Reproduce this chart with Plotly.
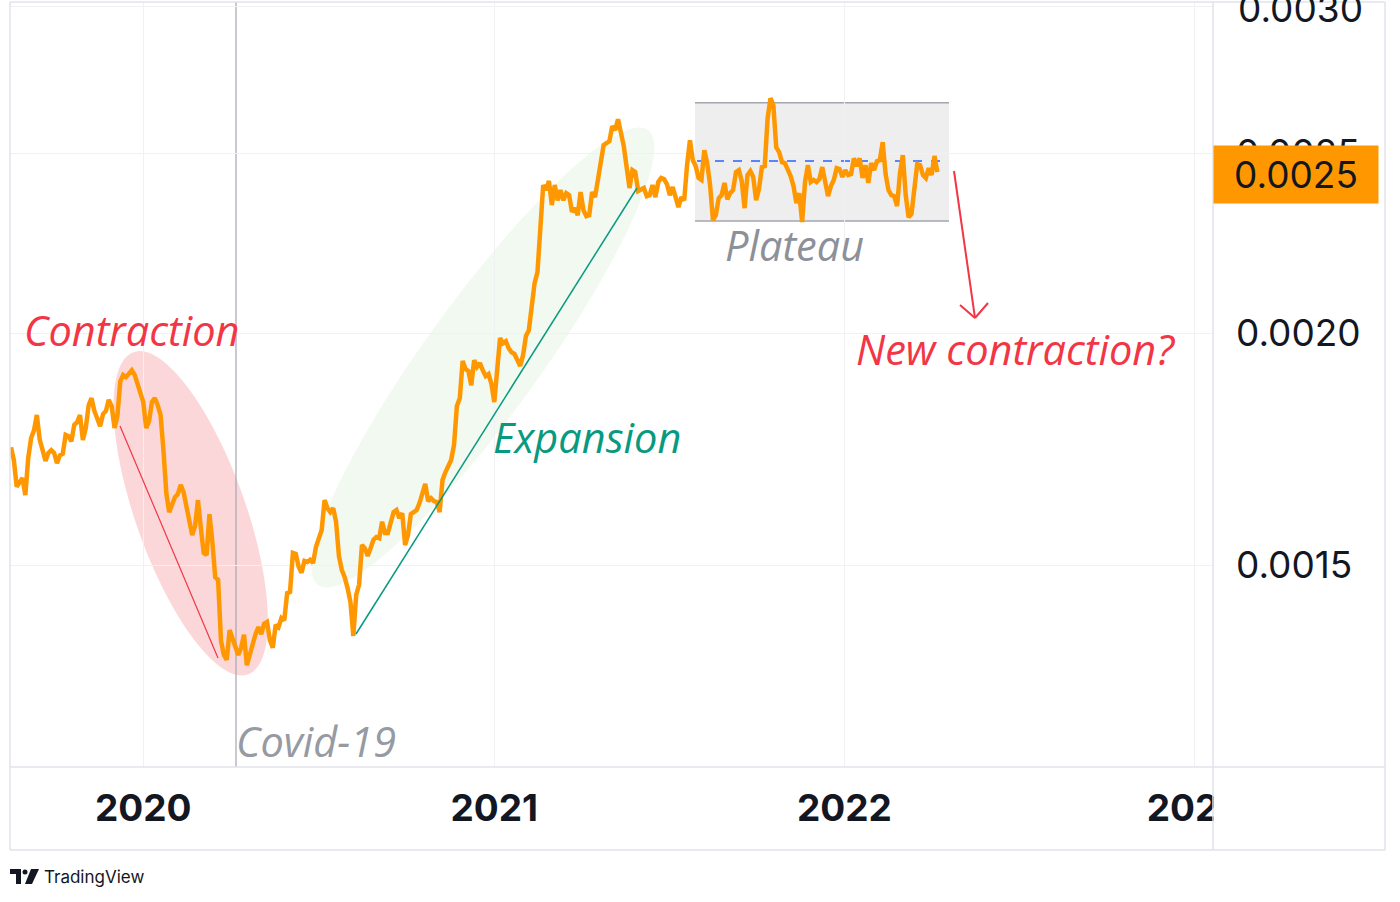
import numpy as np
import pandas as pd
import plotly.graph_objects as go

# ---------------- data ----------------
start_date = "2019-08-16"
step = "3D"
values = [
    0.001736, 0.001709, 0.001653, 0.001663, 0.001671, 0.001636, 0.001713, 0.001756, 0.001773, 0.001807,
    0.001752, 0.001730, 0.001707, 0.001724, 0.001730, 0.001724, 0.001702, 0.001719, 0.001722, 0.001763,
    0.001760, 0.001749, 0.001785, 0.001791, 0.001807, 0.001752, 0.001778, 0.001829, 0.001845, 0.001816,
    0.001796, 0.001782, 0.001809, 0.001816, 0.001841, 0.001827, 0.001778, 0.001805, 0.001884, 0.001899,
    0.001894, 0.001903, 0.001910, 0.001899, 0.001880, 0.001859, 0.001836, 0.001778, 0.001793, 0.001836,
    0.001845, 0.001829, 0.001807, 0.001730, 0.001640, 0.001602, 0.001620, 0.001632, 0.001638, 0.001657,
    0.001642, 0.001614, 0.001584, 0.001557, 0.001575, 0.001626, 0.001571, 0.001523, 0.001519, 0.001598,
    0.001544, 0.001478, 0.001473, 0.001366, 0.001342, 0.001334, 0.001384, 0.001371, 0.001359, 0.001342,
    0.001354, 0.001376, 0.001325, 0.001344, 0.001359, 0.001377, 0.001389, 0.001377, 0.001395, 0.001398,
    0.001367, 0.001354, 0.001393, 0.001389, 0.001405, 0.001401, 0.001449, 0.001451, 0.001523, 0.001521,
    0.001497, 0.001486, 0.001508, 0.001506, 0.001510, 0.001504, 0.001534, 0.001553, 0.001567, 0.001626,
    0.001610, 0.001602, 0.001610, 0.001583, 0.001517, 0.001491, 0.001478, 0.001458, 0.001433, 0.001374,
    0.001446, 0.001464, 0.001538, 0.001532, 0.001517, 0.001532, 0.001548, 0.001553, 0.001551, 0.001583,
    0.001561, 0.001561, 0.001586, 0.001602, 0.001606, 0.001590, 0.001600, 0.001538, 0.001557, 0.001598,
    0.001602, 0.001606, 0.001620, 0.001638, 0.001659, 0.001624, 0.001630, 0.001624, 0.001622, 0.001602,
    0.001667, 0.001683, 0.001698, 0.001709, 0.001741, 0.001827, 0.001845, 0.001932, 0.001913, 0.001908,
    0.001875, 0.001934, 0.001918, 0.001927, 0.001910, 0.001896, 0.001901, 0.001878, 0.001836, 0.001899,
    0.001988, 0.001975, 0.001980, 0.001963, 0.001953, 0.001949, 0.001934, 0.001920, 0.001946, 0.001993,
    0.002007, 0.002066, 0.002128, 0.002157, 0.002289, 0.002403, 0.002388, 0.002415, 0.002344, 0.002403,
    0.002358, 0.002388, 0.002358, 0.002379, 0.002373, 0.002324, 0.002335, 0.002315, 0.002382, 0.002329,
    0.002312, 0.002315, 0.002382, 0.002367, 0.002418, 0.002472, 0.002525, 0.002531, 0.002537, 0.002585,
    0.002572, 0.002607, 0.002559, 0.002522, 0.002457, 0.002394, 0.002448, 0.002442, 0.002385, 0.002388,
    0.002394, 0.002370, 0.002373, 0.002403, 0.002367, 0.002412, 0.002424, 0.002421, 0.002406, 0.002373,
    0.002397, 0.002367, 0.002338, 0.002367, 0.002358, 0.002463, 0.002540, 0.002478, 0.002460, 0.002424,
    0.002418, 0.002509, 0.002469, 0.002403, 0.002301, 0.002315, 0.002364, 0.002373, 0.002409, 0.002361,
    0.002379, 0.002388, 0.002442, 0.002448, 0.002415, 0.002335, 0.002433, 0.002445, 0.002427, 0.002358,
    0.002391, 0.002457, 0.002460, 0.002611, 0.002676, 0.002653, 0.002518, 0.002503, 0.002472, 0.002469,
    0.002448, 0.002430, 0.002400, 0.002350, 0.002379, 0.002295, 0.002412, 0.002463, 0.002412, 0.002418,
    0.002412, 0.002421, 0.002457, 0.002415, 0.002370, 0.002400, 0.002418, 0.002454, 0.002451, 0.002427,
    0.002448, 0.002433, 0.002436, 0.002484, 0.002460, 0.002484, 0.002424, 0.002463, 0.002409, 0.002469,
    0.002448, 0.002475, 0.002478, 0.002534, 0.002436, 0.002388, 0.002373, 0.002370, 0.002341, 0.002439,
    0.002494, 0.002373, 0.002309, 0.002318, 0.002379, 0.002466, 0.002463, 0.002433, 0.002424, 0.002454,
    0.002433, 0.002491, 0.002442,
]
dates = pd.date_range(start_date, periods=len(values), freq=step)

year_ticks = ["2020-01-01", "2021-01-01", "2022-01-01", "2023-01-01"]
year_labels = ["2020", "2021", "2022", "2023"]
price_ticks = [0.0015, 0.0020, 0.0025, 0.0030]
price_labels = ["0.0015", "0.0020", "0.0025", "0.0030"]
last_price_label = "0.0025"

# ---------------- layout helpers (pixel -> paper) ----------------
W, H = 1400, 902
L, R, T, B = 10, 1213, 2, 767


def px(x):
    return (x - L) / (R - L)


def py(y):
    return (B - y) / (B - T)


def ellipse_path(cx, cy, a, b, ux, uy, n=120):
    t = np.linspace(0, 2 * np.pi, n, endpoint=False)
    vx, vy = -uy, ux
    xs = cx + a * np.cos(t) * ux + b * np.sin(t) * vx
    ys = cy + a * np.cos(t) * uy + b * np.sin(t) * vy
    pts = [f"{px(x):.5f},{py(y):.5f}" for x, y in zip(xs, ys)]
    return "M" + " L".join(pts) + " Z"


def poly_path(points):
    pts = [f"{px(x):.5f},{py(y):.5f}" for x, y in points]
    return "M" + " L".join(pts) + " Z"


def seg(x0, y0, x1, y1, color, width, dash="solid", layer="above"):
    return dict(type="line", xref="paper", yref="paper",
                x0=px(x0), y0=py(y0), x1=px(x1), y1=py(y1),
                line=dict(color=color, width=width, dash=dash), layer=layer)


RED = "#f23645"
TEAL = "#089981"
ORANGE = "#ff9800"
GRID = "#f0f1f5"
FRAME = "#e0e3eb"
TXT = "#131722"

fig = go.Figure()
fig.add_trace(go.Scatter(x=dates, y=values, mode="lines",
                         line=dict(color=ORANGE, width=4.5), hoverinfo="skip"))

shapes = []
# pink contraction ellipse
dx, dy = 114.7, 323.3
n_ = np.hypot(dx, dy)
shapes.append(dict(type="path", xref="paper", yref="paper", layer="below",
                   path=ellipse_path(190.7, 513.3, 171, 55, dx / n_, dy / n_),
                   fillcolor="rgba(242,54,69,0.2)", line=dict(width=0)))
# green expansion ellipse
dx, dy = 330, -455
n_ = np.hypot(dx, dy)
shapes.append(dict(type="path", xref="paper", yref="paper", layer="below",
                   path=ellipse_path(483, 357.5, 281, 57, dx / n_, dy / n_),
                   fillcolor="rgba(76,175,80,0.08)", line=dict(width=0)))
# plateau box
shapes.append(dict(type="rect", xref="paper", yref="paper", layer="below",
                   x0=px(695), x1=px(949), y0=py(221), y1=py(102.7),
                   fillcolor="rgba(120,123,134,0.13)", line=dict(width=0)))
shapes.append(seg(695, 102.7, 949, 102.7, "#a3a6af", 1.6, layer="below"))
shapes.append(seg(695, 221, 949, 221, "#a3a6af", 1.6, layer="below"))
shapes.append(seg(697, 161, 942, 161, "#2962ff", 1.4, dash="dash", layer="below"))
# covid vertical line
shapes.append(seg(236, T, 236, B, "#a3a6af", 1.2, layer="below"))
# trend lines
shapes.append(seg(120, 426, 218, 658, RED, 1.2))
shapes.append(seg(356, 634, 637, 188, TEAL, 1.5))
# red arrow
shapes.append(seg(954, 171, 975, 318, RED, 2))
shapes.append(seg(975, 318, 960, 305, RED, 2))
shapes.append(seg(975, 318, 988, 303, RED, 2))
# cover the overflowing part of the last year label
shapes.append(dict(type="rect", xref="paper", yref="paper", layer="above",
                   x0=px(1214), x1=px(1384), y0=py(849), y1=py(768),
                   fillcolor="white", line=dict(width=0)))
# frame lines
shapes.append(seg(L, T, L, 850, FRAME, 1.5))
shapes.append(seg(1385, T, 1385, 850, FRAME, 1.5))
shapes.append(seg(L, T, 1385, T, FRAME, 1.5))
shapes.append(seg(L, 850, 1385, 850, FRAME, 1.5))
shapes.append(seg(R, T, R, 850, FRAME, 1.5))
shapes.append(seg(L, B, 1385, B, FRAME, 1.5))
# TradingView logo
shapes.append(dict(type="path", xref="paper", yref="paper", layer="above",
                   path=poly_path([(10, 869), (21, 869), (21, 884), (16, 884), (16, 874), (10, 874)]),
                   fillcolor=TXT, line=dict(width=0)))
shapes.append(dict(type="circle", xref="paper", yref="paper", layer="above",
                   x0=px(22.5), x1=px(27.5), y0=py(874.5), y1=py(869.5),
                   fillcolor=TXT, line=dict(width=0)))
shapes.append(dict(type="path", xref="paper", yref="paper", layer="above",
                   path=poly_path([(31, 869), (39, 869), (32, 884), (25, 884)]),
                   fillcolor=TXT, line=dict(width=0)))

ITF = dict(family="Open Sans", size=41.5, style="italic")


def label(text, x, y, color, **kw):
    return dict(text=text, xref="paper", yref="paper", x=px(x), y=py(y),
                xanchor="left", yanchor="middle", showarrow=False,
                font=dict(ITF, color=color), **kw)


# the top price label sits half outside the page; draw it as text
shown_price_labels = [t if v < 0.0029 else "" for v, t in zip(price_ticks, price_labels)]

annotations = [
    label("Contraction", 22, 330, RED),
    label("Covid-19", 234, 741, "#959aa3"),
    label("Expansion", 491, 437, TEAL),
    label("Plateau", 723, 245, "#8d9099"),
    label("New contraction?", 854, 349, RED),
    dict(text=price_labels[-1], xref="paper", yref="paper", x=px(1236), y=py(9),
         xanchor="left", yanchor="middle", showarrow=False,
         font=dict(family="Inter", size=37, color=TXT)),
    dict(text=last_price_label, xref="paper", yref="paper", x=px(1296), y=py(174.5),
         xanchor="center", yanchor="middle", showarrow=False,
         bgcolor=ORANGE, width=160, height=53, borderpad=2,
         font=dict(family="Inter", size=37, color=TXT)),
    dict(text="TradingView", xref="paper", yref="paper", x=px(42), y=py(877),
         xanchor="left", yanchor="middle", showarrow=False,
         font=dict(family="Inter", size=17, color=TXT)),
]

fig.update_layout(
    width=W, height=H, autosize=False,
    margin=dict(l=L, r=W - R, t=T, b=H - B, pad=0),
    paper_bgcolor="white", plot_bgcolor="white",
    showlegend=False,
    xaxis=dict(type="date", range=["2019-08-15", "2023-01-20 10:00"],
               tickvals=year_ticks, ticktext=year_labels,
               showgrid=True, gridcolor=GRID, gridwidth=1,
               zeroline=False, showline=False, ticks="",
               tickfont=dict(family="Inter", size=37, color=TXT, weight="bold"),
               ticklabelstandoff=16, fixedrange=True),
    yaxis=dict(type="log", range=[np.log10(0.001168), np.log10(0.003015)],
               side="right", tickvals=price_ticks, ticktext=shown_price_labels,
               showgrid=True, gridcolor=GRID, gridwidth=1,
               zeroline=False, showline=False, ticks="",
               tickfont=dict(family="Inter", size=37, color=TXT),
               ticklabelstandoff=22, fixedrange=True),
    shapes=shapes,
    annotations=annotations,
)

fig.write_html("out.html")
